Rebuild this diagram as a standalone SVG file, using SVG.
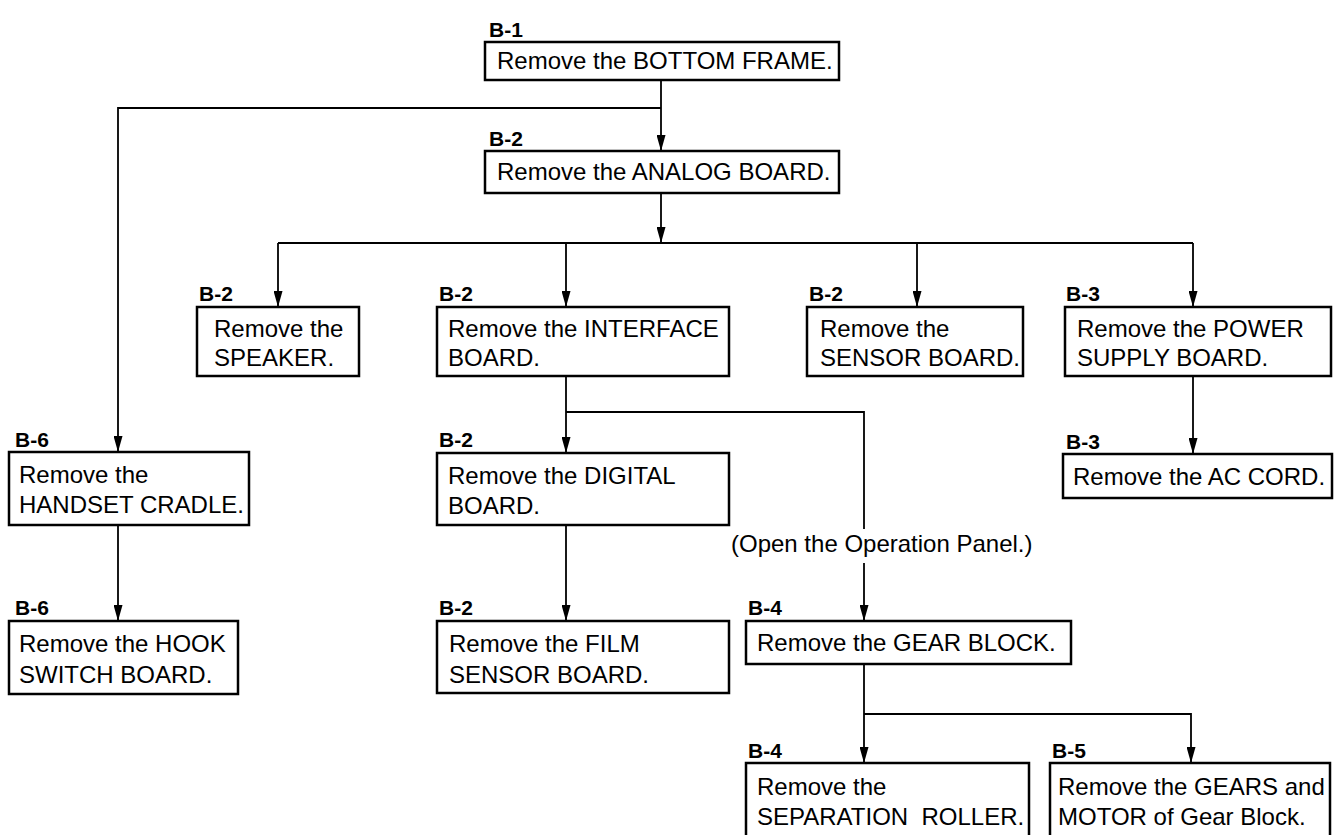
<svg xmlns="http://www.w3.org/2000/svg" width="1342" height="835" viewBox="0 0 1342 835">
<defs>
<marker id="ah" markerWidth="16" markerHeight="9" refX="16" refY="4.5" orient="auto" markerUnits="userSpaceOnUse" viewBox="0 0 16 9">
<path d="M0,0 L16,4.5 L0,9 Z" fill="#000"/>
</marker>
<style>
.box{fill:#fff;stroke:#000;stroke-width:2.5}
.t{font-family:"Liberation Sans",Arial,sans-serif;font-size:24px;fill:#000}
.lb{font-family:"Liberation Sans",Arial,sans-serif;font-size:21px;font-weight:bold;fill:#000}
.c{fill:none;stroke:#000;stroke-width:1.8}
.ca{fill:none;stroke:#000;stroke-width:1.8;marker-end:url(#ah)}
</style>
</defs>
<rect width="1342" height="835" fill="#fff"/>
<g id="connectors">
<path class="ca" d="M661,80 V151"/>
<path class="ca" d="M661,108 H118 V452"/>
<path class="ca" d="M661,193 V243"/>
<path class="c" d="M278,243 H1193"/>
<path class="ca" d="M278,243 V307"/>
<path class="ca" d="M566,243 V307"/>
<path class="ca" d="M917,243 V307"/>
<path class="ca" d="M1193,243 V307"/>
<path class="ca" d="M1193,376 V454"/>
<path class="ca" d="M118,525 V621"/>
<path class="ca" d="M566,376 V453"/>
<path class="c" d="M566,412 H864 V529"/>
<path class="ca" d="M864,563 V621"/>
<path class="ca" d="M566,525 V621"/>
<path class="ca" d="M864,664 V763"/>
<path class="ca" d="M864,714 H1191 V763"/>
</g>
<g id="n1"><text class="lb" x="489" y="37">B-1</text><rect class="box" x="485" y="42" width="354" height="38"/><text class="t" x="497" y="69">Remove the BOTTOM FRAME.</text></g>
<g id="n2"><text class="lb" x="489" y="146">B-2</text><rect class="box" x="485" y="151" width="354" height="42"/><text class="t" x="497" y="180">Remove the ANALOG BOARD.</text></g>
<g id="n3"><text class="lb" x="199" y="301">B-2</text><rect class="box" x="197" y="307" width="162" height="69"/><text class="t" x="214" y="337">Remove the</text><text class="t" x="214" y="366">SPEAKER.</text></g>
<g id="n4"><text class="lb" x="439" y="301">B-2</text><rect class="box" x="437" y="307" width="292" height="69"/><text class="t" x="448" y="337">Remove the INTERFACE</text><text class="t" x="448" y="366">BOARD.</text></g>
<g id="n5"><text class="lb" x="809" y="301">B-2</text><rect class="box" x="807" y="307" width="216" height="69"/><text class="t" x="820" y="337">Remove the</text><text class="t" x="820" y="366">SENSOR BOARD.</text></g>
<g id="n6"><text class="lb" x="1066" y="301">B-3</text><rect class="box" x="1065" y="307" width="266" height="69"/><text class="t" x="1077" y="337">Remove the POWER</text><text class="t" x="1077" y="366">SUPPLY BOARD.</text></g>
<g id="n7"><text class="lb" x="15" y="447">B-6</text><rect class="box" x="9" y="452" width="240" height="73"/><text class="t" x="19" y="483">Remove the</text><text class="t" x="19" y="513">HANDSET CRADLE.</text></g>
<g id="n8"><text class="lb" x="439" y="447">B-2</text><rect class="box" x="437" y="453" width="292" height="72"/><text class="t" x="448" y="484">Remove the DIGITAL</text><text class="t" x="448" y="514">BOARD.</text></g>
<g id="n9"><text class="lb" x="1066" y="449">B-3</text><rect class="box" x="1063" y="454" width="269" height="44"/><text class="t" x="1073" y="485">Remove the AC CORD.</text></g>
<g id="n10"><text class="lb" x="15" y="615">B-6</text><rect class="box" x="9" y="621" width="229" height="73"/><text class="t" x="19" y="652">Remove the HOOK</text><text class="t" x="19" y="683">SWITCH BOARD.</text></g>
<g id="n11"><text class="lb" x="439" y="615">B-2</text><rect class="box" x="437" y="621" width="292" height="72"/><text class="t" x="449" y="652">Remove the FILM</text><text class="t" x="449" y="683">SENSOR BOARD.</text></g>
<text class="t" x="731" y="552">(Open the Operation Panel.)</text>
<g id="n12"><text class="lb" x="748" y="615">B-4</text><rect class="box" x="746" y="621" width="325" height="43"/><text class="t" x="757" y="651">Remove the GEAR BLOCK.</text></g>
<g id="n13"><text class="lb" x="748" y="758">B-4</text><rect class="box" x="746" y="763" width="283" height="80"/><text class="t" x="757" y="795">Remove the</text><text class="t" x="757" y="825" xml:space="preserve">SEPARATION  ROLLER.</text></g>
<g id="n14"><text class="lb" x="1052" y="758">B-5</text><rect class="box" x="1050" y="763" width="280" height="80"/><text class="t" x="1058" y="795">Remove the GEARS and</text><text class="t" x="1058" y="825">MOTOR of Gear Block.</text></g>
</svg>
